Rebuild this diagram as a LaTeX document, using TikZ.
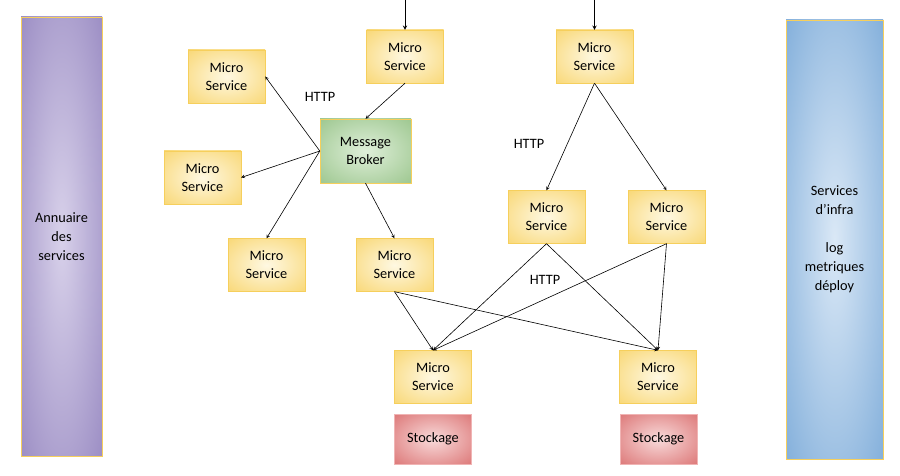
\documentclass[tikz,border=0pt]{standalone}
\usepackage{fontspec}
\setmainfont{Carlito}
\definecolor{msin}{HTML}{FEF8E2}
\definecolor{msout}{HTML}{F8D263}
\definecolor{msline}{HTML}{F6CF5C}
\definecolor{mbin}{HTML}{DFEFD9}
\definecolor{mbout}{HTML}{92C083}
\definecolor{stin}{HTML}{F8DADA}
\definecolor{stout}{HTML}{D86767}
\definecolor{stline}{HTML}{F0B4B4}
\definecolor{anin}{HTML}{D8D1EA}
\definecolor{anout}{HTML}{8C7CBA}
\definecolor{inin}{HTML}{DAE8F6}
\definecolor{inout}{HTML}{6DA1D4}
\pgfdeclareradialshading{msshade}{\pgfpoint{0bp}{0bp}}{color(0bp)=(msin); color(42bp)=(msout); color(50bp)=(msout)}
\pgfdeclareradialshading{mbshade}{\pgfpoint{0bp}{0bp}}{color(0bp)=(mbin); color(42bp)=(mbout); color(50bp)=(mbout)}
\pgfdeclareradialshading{stshade}{\pgfpoint{0bp}{0bp}}{color(0bp)=(stin); color(42bp)=(stout); color(50bp)=(stout)}
\pgfdeclareradialshading{anshade}{\pgfpoint{0bp}{0bp}}{color(0bp)=(anin); color(45bp)=(anout); color(50bp)=(anout)}
\pgfdeclareradialshading{inshade}{\pgfpoint{0bp}{0bp}}{color(0bp)=(inin); color(45bp)=(inout); color(50bp)=(inout)}
\begin{document}
\begin{tikzpicture}[x=1pt,y=-1pt,
  main node/.style={rectangle,draw=msline,shading=msshade,minimum width=77pt,minimum height=53pt,inner sep=0pt,align=center,font=\fontsize{14.3}{18}\selectfont},
  broker node/.style={main node,shading=mbshade,minimum width=91pt,minimum height=64pt},
  store node/.style={main node,draw=stline,shading=stshade,minimum height=50pt},
  bar node/.style={main node,minimum width=81pt,minimum height=439pt,font=\fontsize{14.3}{19}\selectfont}]

  \useasboundingbox (0,0) rectangle (900,476);

  \node[bar node,shading=anshade] (100) at (61.5,236.5){Annuaire\\des\\services};
  \node[bar node,shading=inshade,minimum width=97pt] (101) at (834.5,239.5){Services\\d’infra\\[19pt]log\\metriques\\déploy};

  \node[main node] (1) at (226.5,76.5){Micro\\Service};
  \node[main node] (2) at (405,56.5){Micro\\Service};
  \node[main node] (3) at (594.5,56.5){Micro\\Service};
  \node[broker node] (0) at (365.5,151){Message\\Broker};
  \node[main node] (4) at (202.5,177.5){Micro\\Service};
  \node[main node] (5) at (266.5,265){Micro\\Service};
  \node[main node] (6) at (394.5,265){Micro\\Service};
  \node[main node] (7) at (546.5,217){Micro\\Service};
  \node[main node] (8) at (666.5,217){Micro\\Service};
  \node[main node] (9) at (433,377){Micro\\Service};
  \node[main node] (10) at (658,377){Micro\\Service};
  \node[store node] (11) at (433,439){Stockage};
  \node[store node] (12) at (658.5,439){Stockage};

  \node[font=\fontsize{14.3}{18}\selectfont] (h1) at (320,97){HTTP};
  \node[font=\fontsize{14.3}{18}\selectfont] (h2) at (529,144){HTTP};
  \node[font=\fontsize{14.3}{18}\selectfont] (h3) at (545,280){HTTP};

  \coordinate (in2) at (405,0);
  \coordinate (in3) at (594.5,0);

  \path[->,>=stealth,line width=0.9pt]
    (in2) edge (2)
    (in3) edge (3);

  \path[->,>=stealth,line width=0.6pt]
    (2.south) edge (0.north)
    (0.west) edge (1.east)
    (0.west) edge (4.east)
    (0.west) edge (5.north)
    (0.south) edge (6.north)
    (3.south) edge (7.north)
    (3.south) edge (8.north)
    (6.south) edge (9.north)
    (6.south) edge (10.north)
    (7.south) edge (9.north)
    (7.south) edge (10.north)
    (8.south) edge (9.north)
    (8.south) edge (10.north);
\end{tikzpicture}
\end{document}
